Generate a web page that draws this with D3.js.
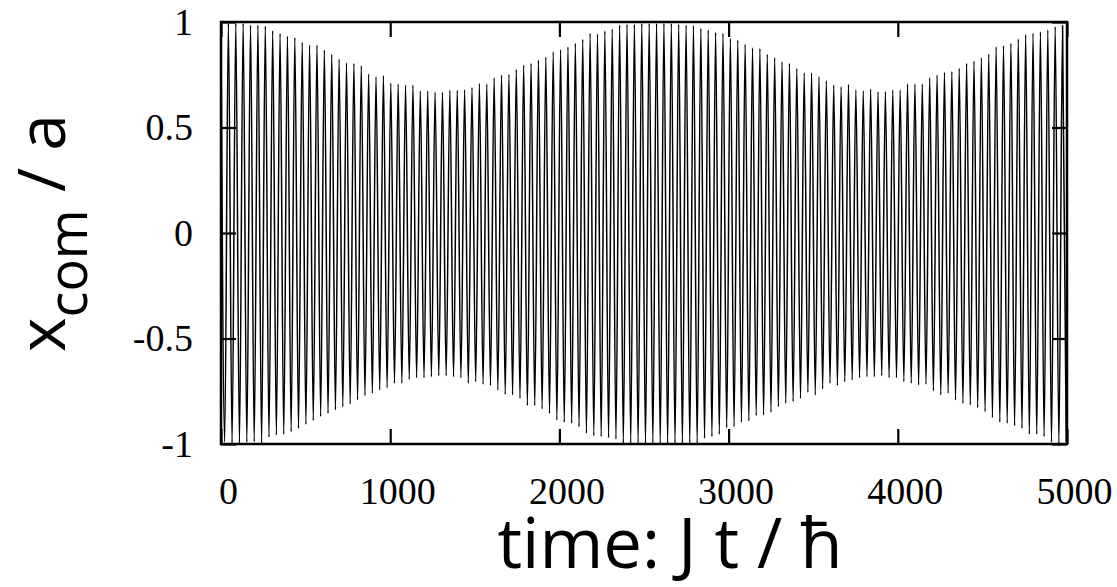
<!DOCTYPE html>
<html>
<head>
<meta charset="utf-8">
<script src="https://cdn.jsdelivr.net/npm/d3@7"></script>
<style>
  body { margin: 0; background: #fff; }
  .tick text { font-family: "Liberation Serif", "Times New Roman", serif; font-size: 38px; fill: #000; }
  .title { font-family: "Open Sans", sans-serif; fill: #000; }
</style>
</head>
<body>
<svg id="chart" width="1117" height="587"></svg>
<script>
// time between two maxima of the fast oscillation (read from peak spacing)
const period = 43.63;

// height of each maximum, one per period
const peaks = [
  1.0, 0.994, 0.994, 0.994, 0.986, 0.986, 0.981, 0.959, 0.945, 0.934,
  0.926, 0.904, 0.891, 0.891, 0.867, 0.847, 0.825, 0.807, 0.804, 0.793,
  0.754, 0.741, 0.746, 0.711, 0.706, 0.701, 0.701, 0.673, 0.673, 0.667,
  0.667, 0.676, 0.676, 0.679, 0.689, 0.709, 0.706, 0.736, 0.749,
  0.752, 0.776, 0.796, 0.804, 0.820, 0.834, 0.859, 0.870, 0.883, 0.899,
  0.918, 0.946, 0.943, 0.957, 0.967, 0.986, 0.989, 0.989, 0.994, 0.994,
  0.994, 0.994, 0.994, 0.989, 0.986, 0.983, 0.970, 0.962, 0.951, 0.946,
  0.922, 0.915, 0.894, 0.878, 0.875, 0.847, 0.831, 0.812,
  0.804, 0.781, 0.760, 0.760, 0.741, 0.722, 0.701, 0.693, 0.705, 0.678,
  0.674, 0.682, 0.670, 0.670, 0.678, 0.678, 0.706, 0.706, 0.706, 0.736,
  0.749, 0.762, 0.765, 0.781, 0.804, 0.815, 0.831, 0.848, 0.883, 0.888,
  0.899, 0.919, 0.941, 0.946, 0.954, 0.962, 0.978, 0.983
];

// depth of each minimum (half a period after each maximum)
const troughs = [
  -0.99, -0.997, -0.997, -0.992, -0.989, -0.997, -0.968, -0.957, -0.954, -0.942,
  -0.926, -0.907, -0.889, -0.870, -0.855, -0.839, -0.823, -0.810, -0.791, -0.771,
  -0.760, -0.744, -0.733, -0.712, -0.712, -0.693, -0.686, -0.686, -0.681, -0.676,
  -0.676, -0.681, -0.686, -0.712, -0.705, -0.717, -0.723, -0.744,
  -0.765, -0.768, -0.784, -0.818, -0.818, -0.834, -0.855, -0.886, -0.897, -0.902,
  -0.918, -0.949, -0.961, -0.965, -0.970, -0.976, -0.997, -0.997, -0.997, -0.997,
  -0.997, -1.0, -1.0, -0.997, -0.997, -0.997, -0.997, -0.973, -0.965, -0.954,
  -0.923, -0.918, -0.897, -0.891, -0.866, -0.863, -0.850, -0.823,
  -0.807, -0.799, -0.784, -0.755, -0.768, -0.739, -0.712, -0.723, -0.705, -0.697,
  -0.686, -0.681, -0.681, -0.676, -0.686, -0.686, -0.705, -0.712, -0.720, -0.717,
  -0.749, -0.768, -0.760, -0.791, -0.807, -0.815, -0.828, -0.847, -0.875, -0.897,
  -0.902, -0.913, -0.926, -0.954, -0.954, -0.965, -0.992, -0.997, -0.99
];

const xTicks = [0, 1000, 2000, 3000, 4000, 5000];
const yTicks = [-1, -0.5, 0, 0.5, 1];

const plotL = 221, plotR = 1067, plotT = 22, plotB = 444;
const svg = d3.select("#chart");

const x = d3.scaleLinear().domain([0, 5000]).range([plotL, plotR]);
const y = d3.scaleLinear().domain([-1, 1]).range([plotB, plotT]);

// maxima and minima in time order
let pts = [];
peaks.forEach(function (p, i) {
  pts.push([i * period, p]);
  if (i < troughs.length) pts.push([(i + 0.5) * period, troughs[i]]);
});

svg.append("clipPath").attr("id", "clip")
  .append("rect").attr("x", plotL).attr("y", plotT)
  .attr("width", plotR - plotL).attr("height", plotB - plotT);

const line = d3.line()
  .x(function (d) { return x(d[0]); })
  .y(function (d) { return y(d[1]); })
  .curve(d3.curveMonotoneX);

svg.append("path")
  .datum(pts)
  .attr("clip-path", "url(#clip)")
  .attr("fill", "none")
  .attr("stroke", "#000")
  .attr("stroke-width", 1.5)
  .attr("d", line);

// plain labels, hyphen minus like the original
const plain = function (d) { return String(d); };

// axes, ticks pointing inwards on all four sides
svg.append("g").attr("transform", "translate(0," + plotB + ")")
  .call(d3.axisBottom(x).tickValues(xTicks).tickSize(-15).tickSizeOuter(0).tickPadding(33).tickFormat(plain))
  .call(function (g) { g.selectAll("text").attr("dx", 7); });
svg.append("g").attr("transform", "translate(0," + plotT + ")")
  .call(d3.axisTop(x).tickValues(xTicks).tickSize(-15).tickSizeOuter(0).tickFormat(""));
svg.append("g").attr("transform", "translate(" + plotL + ",0)")
  .call(d3.axisLeft(y).tickValues(yTicks).tickSize(-15).tickSizeOuter(0).tickPadding(28).tickFormat(plain));
svg.append("g").attr("transform", "translate(" + plotR + ",0)")
  .call(d3.axisRight(y).tickValues(yTicks).tickSize(-15).tickSizeOuter(0).tickFormat(""));

svg.selectAll(".domain").remove();
svg.selectAll(".tick line").attr("stroke", "#000").attr("stroke-width", 2.2);

svg.append("rect")
  .attr("x", plotL).attr("y", plotT)
  .attr("width", plotR - plotL).attr("height", plotB - plotT)
  .attr("fill", "none").attr("stroke", "#000").attr("stroke-width", 2.5);

// axis titles
svg.append("text").attr("class", "title")
  .attr("x", 670).attr("y", 568)
  .attr("text-anchor", "middle")
  .style("font-size", "69px")
  .text("time: J t / ħ");

const yt = svg.append("text").attr("class", "title")
  .attr("transform", "translate(65,233) rotate(-90)")
  .attr("text-anchor", "middle")
  .style("font-size", "66px");
yt.append("tspan").text("x");
yt.append("tspan").attr("dy", 22).style("font-size", "54px").text("com");
yt.append("tspan").attr("dy", -22).text(" / a");
</script>
</body>
</html>
